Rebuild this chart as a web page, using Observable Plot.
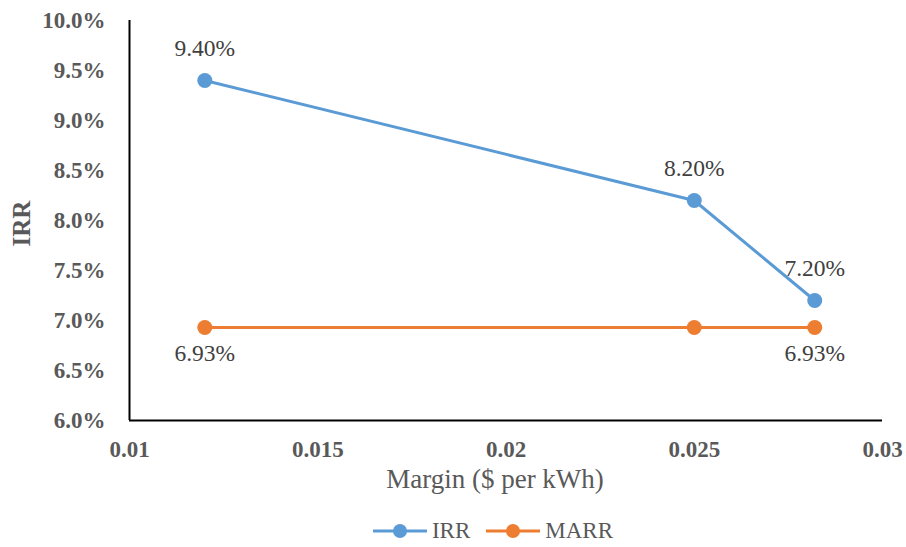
<!DOCTYPE html>
<html>
<head>
<meta charset="utf-8">
<script src="https://cdn.jsdelivr.net/npm/d3@7"></script>
<script src="https://cdn.jsdelivr.net/npm/@observablehq/plot@0.6"></script>
<style>
  body { margin: 0; background: #fff; font-family: "Liberation Serif", "Times New Roman", serif; }
  #legend { display: flex; justify-content: center; align-items: center; gap: 16px; padding-left: 80px; padding-top: 10px; height: 32px; font-size: 23px; color: #595959; }
  .item { display: flex; align-items: center; gap: 5px; }
  .item svg { display: block; }
</style>
</head>
<body>
<div id="chart"></div>
<div id="legend"></div>
<script>
// Margin ($ per kWh) on the x axis
const margins = [0.012, 0.025, 0.0282];
// Internal rate of return at each margin
const irr = [0.094, 0.082, 0.072];
// Minimum acceptable rate of return (flat)
const marr = [0.0693, 0.0693, 0.0693];
// Which MARR points carry a value label
const marrLabelled = [true, false, true];

const xTicks = [0.01, 0.015, 0.02, 0.025, 0.03];
const yTicks = [0.06, 0.065, 0.07, 0.075, 0.08, 0.085, 0.09, 0.095, 0.10];

const seriesNames = ["IRR", "MARR"];
const seriesColors = ["#5B9BD5", "#ED7D31"];

const irrRows = margins.map((m, i) => ({margin: m, value: irr[i]}));
const marrRows = margins.map((m, i) => ({margin: m, value: marr[i], labelled: marrLabelled[i]}));

const pct = d3.format(".2%");
const font = "Liberation Serif";

const chart = Plot.plot({
  width: 906,
  height: 505,
  marginLeft: 129,
  marginRight: 24,
  marginTop: 20,
  marginBottom: 85,
  style: "font-family: 'Liberation Serif', serif; background: #fff;",
  x: {domain: [0.01, 0.03]},
  y: {domain: [0.06, 0.10]},
  marks: [
    Plot.axisY({ticks: yTicks, tickFormat: d3.format(".1%"), tickSize: 0, tickPadding: 24,
      fontSize: 23, fontWeight: "bold", fontFamily: font, fill: "#595959", label: null}),
    Plot.axisX({ticks: xTicks, tickFormat: d => String(d), tickSize: 0, tickPadding: 20,
      fontSize: 23, fontWeight: "bold", fontFamily: font, fill: "#595959", label: null}),
    Plot.ruleY([0.06], {stroke: "#000", strokeWidth: 2}),
    Plot.ruleX([0.01], {stroke: "#000", strokeWidth: 2}),
    // series
    Plot.line(marrRows, {x: "margin", y: "value", stroke: seriesColors[1], strokeWidth: 3}),
    Plot.dot(marrRows, {x: "margin", y: "value", fill: seriesColors[1], r: 7.5}),
    Plot.line(irrRows, {x: "margin", y: "value", stroke: seriesColors[0], strokeWidth: 3}),
    Plot.dot(irrRows, {x: "margin", y: "value", fill: seriesColors[0], r: 7.5}),
    // value labels
    Plot.text(irrRows, {x: "margin", y: "value", text: d => pct(d.value), dy: -32,
      fontSize: 23.5, fontFamily: font, fill: "#404040"}),
    Plot.text(marrRows.filter(d => d.labelled), {x: "margin", y: "value", text: d => pct(d.value), dy: 26,
      fontSize: 23.5, fontFamily: font, fill: "#404040"}),
    // axis titles
    Plot.text(["Margin ($ per kWh)"], {frameAnchor: "bottom", dx: -11, dy: 67,
      fontSize: 27, fontFamily: font, fill: "#595959"}),
    Plot.text(["IRR"], {frameAnchor: "left", y: [0.0774], dx: -108, rotate: -90,
      fontSize: 25, fontWeight: "bold", fontFamily: font, fill: "#595959"})
  ]
});
document.getElementById("chart").append(chart);

// legend below the chart
const legend = document.getElementById("legend");
seriesNames.forEach((name, i) => {
  const item = document.createElement("div");
  item.className = "item";
  item.innerHTML = `<svg width="54" height="16"><line x1="0" x2="54" y1="8" y2="8" stroke="${seriesColors[i]}" stroke-width="3"/><circle cx="27" cy="8" r="7" fill="${seriesColors[i]}"/></svg><span>${name}</span>`;
  legend.append(item);
});
</script>
</body>
</html>
